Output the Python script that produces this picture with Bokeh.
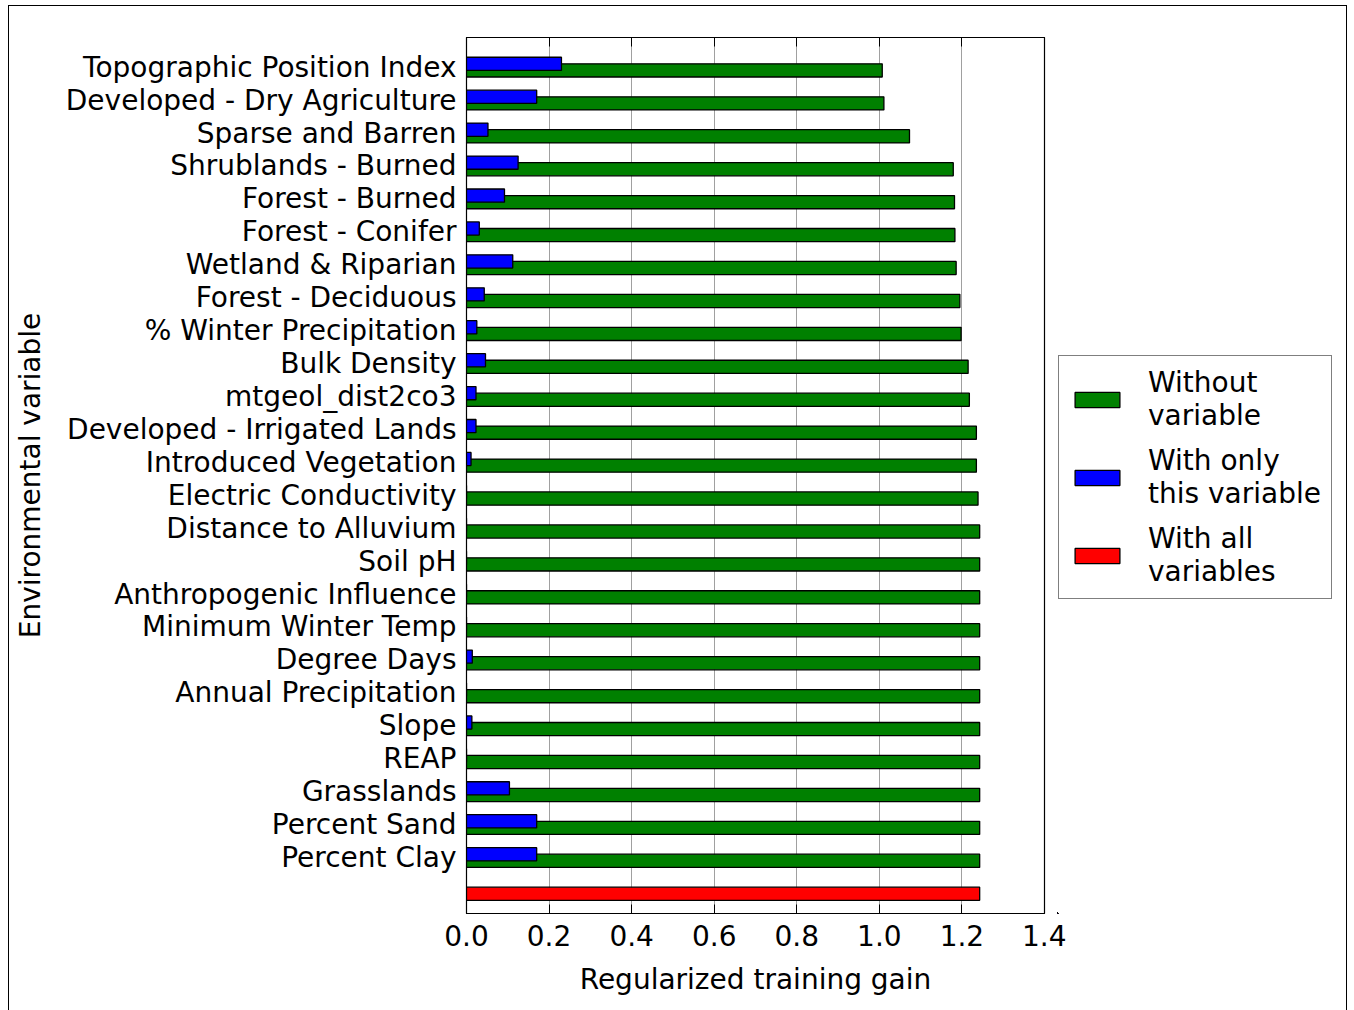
from bokeh.plotting import figure
from bokeh.layouts import row
from bokeh.models import (ColumnDataSource, FixedTicker, Legend, LegendItem, LinearAxis,
                          Range1d, PrintfTickFormatter)
from bokeh.embed import file_html
from bokeh.resources import INLINE

variables = [
    "Topographic Position Index", "Developed - Dry Agriculture", "Sparse and Barren",
    "Shrublands - Burned", "Forest - Burned", "Forest - Conifer", "Wetland & Riparian",
    "Forest - Deciduous", "% Winter Precipitation", "Bulk Density", "mtgeol_dist2co3",
    "Developed - Irrigated Lands", "Introduced Vegetation", "Electric Conductivity",
    "Distance to Alluvium", "Soil pH", "Anthropogenic Influence", "Minimum Winter Temp",
    "Degree Days", "Annual Precipitation", "Slope", "REAP", "Grasslands",
    "Percent Sand", "Percent Clay",
]
without_variable = [
    1.007, 1.011, 1.073, 1.179, 1.182, 1.183, 1.186, 1.195, 1.198, 1.215, 1.218,
    1.235, 1.235, 1.239, 1.243, 1.243, 1.243, 1.243, 1.243, 1.243, 1.243, 1.243,
    1.243, 1.243, 1.243,
]
with_only_variable = [
    0.230, 0.170, 0.052, 0.125, 0.092, 0.031, 0.112, 0.043, 0.025, 0.046, 0.023,
    0.023, 0.011, 0.0, 0.0, 0.0, 0.0, 0.0, 0.014, 0.0, 0.013, 0.0, 0.104, 0.170, 0.170,
]
with_all_variables = [1.243]
x_ticks = [0.0, 0.2, 0.4, 0.6, 0.8, 1.0, 1.2, 1.4]
legend_labels = ["Without\nvariable", "With only\nthis variable", "With all\nvariables"]
bar_colors = ["#008000", "#0000ff", "#ff0000"]

FONT = "DejaVu Sans"
FS = "28px"
H = 1004

n = len(variables)
pos = [n - i for i in range(n)]
src = ColumnDataSource(dict(
    pos=pos,
    pos_only=[q + 0.2 for q in pos],
    without=without_variable,
    only=with_only_variable,
))
src_all = ColumnDataSource(dict(pos=[0], val=with_all_variables))

p = figure(
    width=1057, height=H, output_backend="svg", toolbar_location=None,
    x_range=Range1d(0, 1.4), y_range=Range1d(-0.6, 26.0),
    min_border_left=457, min_border_right=22, min_border_top=31, min_border_bottom=97,
)
p.background_fill_color = "white"
p.border_fill_color = "white"
p.outline_line_color = "black"
p.outline_line_width = 1.2

bar_specs = [("pos", "without", src), ("pos_only", "only", src), ("pos", "val", src_all)]
for (ycol, xcol, s), c in zip(bar_specs, bar_colors):
    p.hbar(y=ycol, left=0, right=xcol, height=0.4, source=s,
           fill_color=c, line_color="black", line_width=1.3)

# x axis
p.xaxis.ticker = FixedTicker(ticks=x_ticks)
p.xaxis.formatter = PrintfTickFormatter(format="%.1f")
p.xaxis.major_tick_in = 9
p.xaxis.major_tick_out = 0
p.xaxis.minor_tick_line_color = None
p.xaxis.major_tick_line_color = "black"
p.xaxis.axis_line_color = "black"
p.xaxis.major_label_text_font = FONT
p.xaxis.major_label_text_font_size = FS
p.xaxis.major_label_text_color = "black"
p.xaxis.major_label_standoff = 11
p.xaxis.axis_label = "Regularized training gain"
p.xaxis.axis_label_text_font = FONT
p.xaxis.axis_label_text_font_size = FS
p.xaxis.axis_label_text_font_style = "normal"
p.xaxis.axis_label_text_color = "black"
p.xaxis.axis_label_standoff = 14

top = LinearAxis(ticker=FixedTicker(ticks=x_ticks))
top.major_tick_in = 9
top.major_tick_out = 0
top.minor_tick_line_color = None
top.major_label_overrides = {t: "" for t in x_ticks}
top.major_label_text_font_size = "1px"
top.major_label_standoff = 0
top.axis_line_color = "black"
p.add_layout(top, "above")

# y axis
label_pos = [q + 0.1 for q in pos]
p.yaxis.ticker = FixedTicker(ticks=label_pos)
p.yaxis.major_label_overrides = {lp: v for lp, v in zip(label_pos, variables)}
p.yaxis.major_tick_in = 0
p.yaxis.major_tick_out = 0
p.yaxis.minor_tick_line_color = None
p.yaxis.axis_line_color = "black"
p.yaxis.major_label_text_font = FONT
p.yaxis.major_label_text_font_size = FS
p.yaxis.major_label_text_color = "black"
p.yaxis.major_label_standoff = 10
p.yaxis.axis_label = "Environmental variable"
p.yaxis.axis_label_text_font = FONT
p.yaxis.axis_label_text_font_size = FS
p.yaxis.axis_label_text_font_style = "normal"
p.yaxis.axis_label_text_color = "black"
p.yaxis.axis_label_standoff = 16

p.xgrid.ticker = FixedTicker(ticks=x_ticks)
p.xgrid.grid_line_color = "#a0a0a0"
p.xgrid.grid_line_width = 1
p.ygrid.grid_line_color = None

# legend panel: a separate transparent canvas to the right; its renderers share
# the bar data but the ranges keep them out of view, so only the legend shows
lf = figure(width=289, height=H, output_backend="svg", toolbar_location=None,
            x_axis_type=None, y_axis_type=None,
            x_range=Range1d(2, 3), y_range=Range1d(30, 31), min_border=0)
lf.grid.grid_line_color = None
lf.outline_line_color = None
lf.background_fill_color = None
lf.border_fill_color = None
lf.styles = {"margin-left": "-9px"}
legend_renderers = [
    lf.hbar(y=ycol, left=0, right=xcol, height=0.4, source=s,
            fill_color=c, line_color="black", line_width=1.3)
    for (ycol, xcol, s), c in zip(bar_specs, bar_colors)
]
legend = Legend(items=[LegendItem(label=lab, renderers=[rr])
                       for lab, rr in zip(legend_labels, legend_renderers)],
                location=(1, 314))
legend.margin = 0
legend.padding = 10
legend.spacing = 12
legend.glyph_width = 56
legend.glyph_height = 19
legend.label_standoff = 23
legend.label_text_font = FONT
legend.label_text_font_size = FS
legend.label_text_color = "black"
legend.label_text_line_height = 1.2
legend.border_line_color = "black"
legend.border_line_width = 1.3
legend.background_fill_color = "white"
legend.background_fill_alpha = 1
lf.add_layout(legend, "center")

layout = row(p, lf)
layout.styles = {"border-top": "1px solid black", "border-left": "1px solid black",
                 "border-right": "1px solid black", "margin-left": "8px",
                 "margin-top": "5px", "background-color": "white"}

open("out.html", "w").write(file_html(layout, INLINE))
